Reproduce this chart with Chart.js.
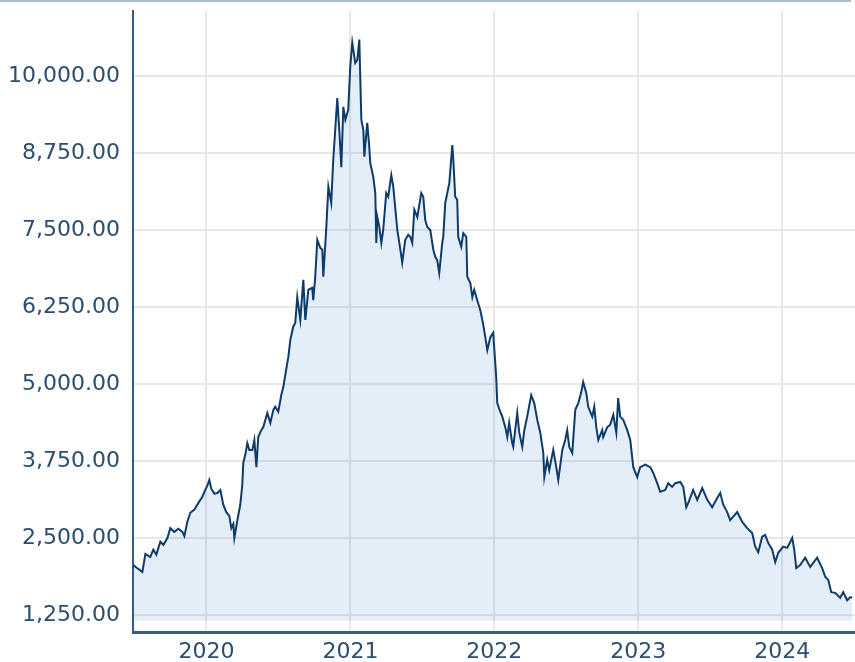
<!DOCTYPE html>
<html>
<head>
<meta charset="utf-8">
<script src="https://cdn.jsdelivr.net/npm/chart.js@4.4.1/dist/chart.umd.min.js"></script>
<style>
  html, body { margin: 0; padding: 0; background: #fff; }
  #wrap { position: relative; width: 855px; height: 662px; }
  #topline { position: absolute; left: 0; top: 0; width: 851px; height: 2px; background: #a9bdd1; z-index: 2; }
  canvas { position: absolute; left: 0; top: 0; }
</style>
</head>
<body>
<div id="wrap">
  <div id="topline"></div>
  <canvas id="chart" width="855" height="662"></canvas>
</div>
<script>
// fecha en años decimales, precio de cierre
const years = [
  2019.492, 2019.520, 2019.555, 2019.576, 2019.610, 2019.631, 2019.652, 2019.680, 2019.701, 2019.729,
  2019.749, 2019.777, 2019.805, 2019.833, 2019.847, 2019.867, 2019.888, 2019.916, 2019.944, 2019.972,
  2019.992, 2020.006, 2020.020, 2020.034, 2020.055, 2020.076, 2020.097, 2020.117, 2020.138, 2020.159,
  2020.173, 2020.187, 2020.194, 2020.215, 2020.235, 2020.249, 2020.256, 2020.270, 2020.284, 2020.298,
  2020.319, 2020.333, 2020.347, 2020.360, 2020.381, 2020.395, 2020.423, 2020.444, 2020.465, 2020.478,
  2020.499, 2020.520, 2020.534, 2020.548, 2020.569, 2020.583, 2020.603, 2020.617, 2020.631, 2020.652,
  2020.673, 2020.687, 2020.708, 2020.735, 2020.742, 2020.756, 2020.770, 2020.791, 2020.805, 2020.812,
  2020.833, 2020.847, 2020.867, 2020.881, 2020.909, 2020.923, 2020.937, 2020.951, 2020.965, 2020.985,
  2020.999, 2021.013, 2021.034, 2021.048, 2021.062, 2021.076, 2021.090, 2021.097, 2021.117, 2021.131,
  2021.138, 2021.159, 2021.173, 2021.180, 2021.187, 2021.201, 2021.215, 2021.228, 2021.249, 2021.263,
  2021.284, 2021.298, 2021.326, 2021.347, 2021.360, 2021.381, 2021.402, 2021.416, 2021.430, 2021.444,
  2021.465, 2021.492, 2021.506, 2021.520, 2021.534, 2021.555, 2021.576, 2021.590, 2021.603, 2021.617,
  2021.638, 2021.645, 2021.659, 2021.673, 2021.687, 2021.708, 2021.715, 2021.728, 2021.742, 2021.749,
  2021.770, 2021.784, 2021.805, 2021.812, 2021.833, 2021.847, 2021.860, 2021.881, 2021.902, 2021.923,
  2021.937, 2021.951, 2021.972, 2021.992, 2022.013, 2022.020, 2022.041, 2022.055, 2022.076, 2022.090,
  2022.103, 2022.124, 2022.131, 2022.159, 2022.173, 2022.194, 2022.208, 2022.228, 2022.256, 2022.277,
  2022.298, 2022.319, 2022.340, 2022.347, 2022.367, 2022.381, 2022.409, 2022.430, 2022.444, 2022.472,
  2022.492, 2022.506, 2022.520, 2022.541, 2022.562, 2022.583, 2022.603, 2022.617, 2022.638, 2022.652,
  2022.680, 2022.694, 2022.708, 2022.722, 2022.749, 2022.756, 2022.784, 2022.805, 2022.826, 2022.847,
  2022.860, 2022.874, 2022.895, 2022.923, 2022.944, 2022.965, 2022.992, 2023.013, 2023.048, 2023.083,
  2023.103, 2023.131, 2023.152, 2023.187, 2023.208, 2023.235, 2023.256, 2023.291, 2023.312, 2023.333,
  2023.347, 2023.381, 2023.409, 2023.444, 2023.479, 2023.513, 2023.548, 2023.569, 2023.590, 2023.617,
  2023.638, 2023.687, 2023.722, 2023.756, 2023.791, 2023.812, 2023.833, 2023.860, 2023.881, 2023.902,
  2023.930, 2023.951, 2023.972, 2024.006, 2024.034, 2024.069, 2024.083, 2024.097, 2024.124, 2024.159,
  2024.194, 2024.242, 2024.277, 2024.298, 2024.319, 2024.340, 2024.367, 2024.402, 2024.423, 2024.451,
  2024.472, 2024.485
];

const prices = [
  2060, 2010, 1950, 2240, 2190, 2310, 2230, 2440, 2390, 2500,
  2660, 2600, 2650, 2600, 2530, 2760, 2910, 2960, 3070, 3170,
  3280, 3350, 3440, 3300, 3220, 3230, 3280, 3040, 2920, 2860,
  2660, 2730, 2500, 2790, 3040, 3360, 3720, 3850, 4040, 3930,
  3930, 4090, 3650, 4140, 4250, 4300, 4530, 4370, 4580, 4630,
  4550, 4820, 4950, 5150, 5440, 5720, 5930, 5990, 6410, 6040,
  6690, 6040, 6530, 6560, 6360, 6740, 7340, 7210, 7180, 6740,
  7550, 8200, 7940, 8640, 9640, 9120, 8520, 9500, 9290, 9450,
  10150, 10540, 10210, 10260, 10590, 9290, 9120, 8690, 9240, 8850,
  8590, 8360, 8100, 7290, 7710, 7550, 7290, 7500, 8100, 8040,
  8390, 8200, 7500, 7180, 6970, 7340, 7420, 7390, 7290, 7830,
  7710, 8100, 8040, 7660, 7550, 7500, 7180, 7060, 7010, 6800,
  7290, 7390, 7940, 8100, 8260, 8880, 8640, 8040, 7990, 7390,
  7230, 7450, 7390, 6740, 6640, 6410, 6530, 6360, 6200, 5960,
  5760, 5550, 5760, 5830, 5110, 4690, 4550, 4470, 4300, 4140,
  4370, 4040, 3980, 4530, 4210, 3980, 4250, 4470, 4820, 4690,
  4420, 4210, 3880, 3490, 3770, 3600, 3930, 3650, 3440, 3930,
  4090, 4250, 3980, 3880, 4580, 4690, 4860, 5030, 4860, 4630,
  4470, 4630, 4300, 4090, 4250, 4140, 4300, 4340, 4500, 4210,
  4770, 4470, 4420, 4250, 4090, 3650, 3490, 3650, 3690, 3650,
  3560, 3390, 3250, 3280, 3390, 3330, 3390, 3410, 3330, 3000,
  3070, 3280, 3120, 3310, 3120, 3000, 3150, 3230, 3040, 2920,
  2790, 2920, 2760, 2660, 2580, 2360, 2270, 2520, 2550, 2420,
  2310, 2110, 2260, 2360, 2340, 2500, 2310, 2010, 2060, 2180,
  2030, 2180, 2010, 1870, 1820, 1620, 1610, 1530, 1620, 1490,
  1540, 1530
];

const xTicks = [2020, 2021, 2022, 2023, 2024];
const yTicks = [1250, 2500, 3750, 5000, 6250, 7500, 8750, 10000];

const azulEje = "#315b88";
const azulTexto = "#2c4c70";
const gris = "#e8e8e8";
const fuente = { family: "'DejaVu Sans', Verdana, sans-serif", size: 22 };

const puntos = years.map((y, i) => ({ x: y, y: prices[i] }));

new Chart(document.getElementById("chart").getContext("2d"), {
  type: "line",
  data: {
    datasets: [{
      data: puntos,
      borderColor: "#0f3b6b",
      borderWidth: 2,
      backgroundColor: "rgba(22, 113, 197, 0.12)",
      fill: { value: 1157 },
      pointRadius: 0,
      tension: 0
    }]
  },
  options: {
    responsive: false,
    animation: false,
    layout: { padding: { top: 11, left: 0, right: 0, bottom: 0 } },
    plugins: { legend: { display: false }, tooltip: { enabled: false } },
    scales: {
      x: {
        type: "linear",
        min: 2019.49,
        max: 2024.505,
        afterBuildTicks: s => { s.ticks = xTicks.map(v => ({ value: v })); },
        afterFit: s => { s.height = 30; s.paddingLeft = 0; s.paddingRight = 0; },
        grid: { color: gris, lineWidth: 2, drawTicks: false },
        border: { color: azulEje, width: 3 },
        ticks: {
          color: azulTexto,
          font: fuente,
          padding: 7,
          maxRotation: 0,
          autoSkip: false,
          callback: v => String(v)
        }
      },
      y: {
        min: 974,
        max: 11055,
        afterBuildTicks: s => { s.ticks = yTicks.map(v => ({ value: v })); },
        afterFit: s => { s.width = 133; s.paddingTop = 0; s.paddingBottom = 0; },
        grid: { color: gris, lineWidth: 2, drawTicks: false },
        border: { color: azulEje, width: 2 },
        ticks: {
          color: azulTexto,
          font: fuente,
          padding: 13,
          autoSkip: false,
          callback: v => v.toLocaleString("en-US", { minimumFractionDigits: 2, maximumFractionDigits: 2 })
        }
      }
    }
  }
});
</script>
</body>
</html>
